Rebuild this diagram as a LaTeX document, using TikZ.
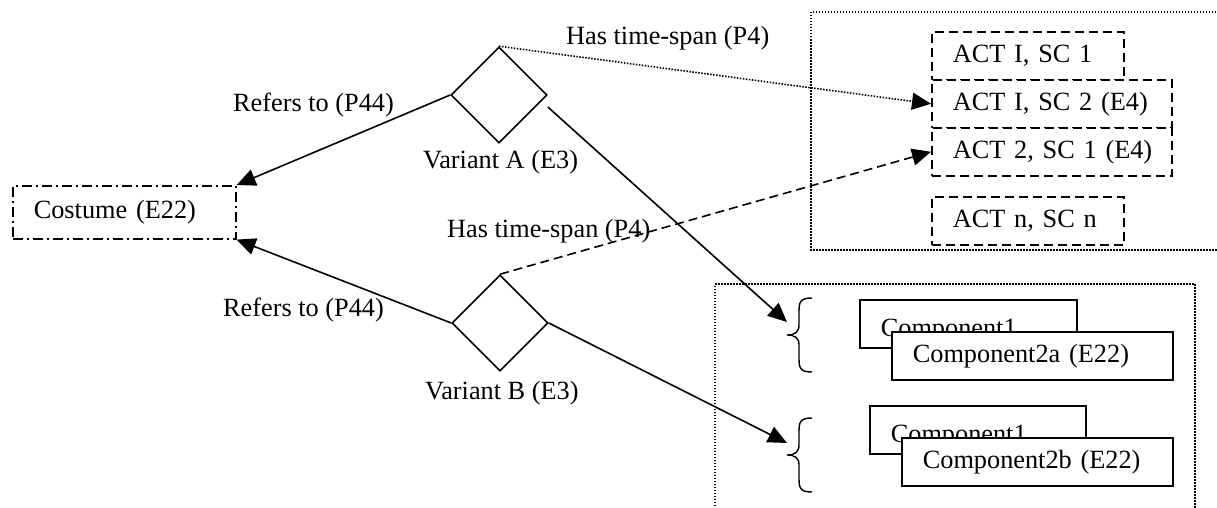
\documentclass[tikz,border=0pt]{standalone}
\usepackage{fontspec}
\setmainfont{Liberation Serif}
\usetikzlibrary{shapes.geometric,arrows.meta}

\tikzset{
  curly/.pic={
    \draw[line width=1.4pt] (25,-37) .. controls (13,-37) and (12,-33) .. (12,-23)
      -- (12,-10) .. controls (12,-3) and (8,0) .. (0,0)
      .. controls (8,0) and (12,3) .. (12,10)
      -- (12,23) .. controls (12,33) and (13,37) .. (25,37);
  }
}

\begin{document}
\begin{tikzpicture}[x=1pt,y=-1pt,
  every node/.style={font=\fontsize{26.3pt}{31pt}\selectfont},
  lbl/.style={anchor=base west, inner sep=0pt},
  framebox/.style={anchor=north west, inner xsep=21pt, inner ysep=0pt, align=left, line width=1.6pt},
  actbox/.style={framebox, draw, dash pattern=on 9pt off 5pt, fill=white, minimum height=48pt},
  compbox/.style={framebox, draw, fill=white, minimum height=48pt},
  group/.style={line width=1.4pt, dash pattern=on 1.5pt off 1.5pt},
  variant/.style={diamond, draw, line width=1.6pt, minimum width=96pt, minimum height=96pt, inner sep=0pt},
  link/.style={line width=1.6pt, -{Triangle[length=19pt,width=17pt]}},
]
\useasboundingbox (0,0) rectangle (1217,508);
\clip (0,0) rectangle (1217,508);

% dotted grouping frames
\draw[group] (1225,12) -- (811,12) -- (811,250) -- (1225,250);
\draw[group] (715,515) -- (715,284) -- (1195,284) -- (1195,515);

% costume entity
\node[framebox, draw, dash pattern=on 10pt off 4pt on 2pt off 4pt,
      minimum width=223pt, minimum height=53pt, text width=181pt]
      (costume) at (12,185) {\mbox{Costume (E22)}};

% variants
\node[variant] (varA) at (499,95) {};
\node[variant] (varB) at (500,323) {};

% scenes
\node[actbox, minimum width=192pt, text width=150pt] (act11) at (931,31) {\mbox{ACT I, SC 1}};
\node[actbox, minimum width=240pt, text width=198pt] (act12) at (931,79) {\mbox{ACT I, SC 2 (E4)}};
\node[actbox, minimum width=240pt, text width=198pt] (act21) at (931,127) {\mbox{ACT 2, SC 1 (E4)}};
\node[actbox, minimum width=192pt, text width=150pt] (actnn) at (931,196) {\mbox{ACT n, SC n}};

% components
\node[compbox, minimum width=217pt, text width=175pt, text height=26pt, text depth=0pt]
      (comp1a) at (859,299) {\mbox{Component1}};
\node[compbox, minimum width=281pt, text width=239pt] (comp2a) at (891,331) {\mbox{Component2a (E22)}};
\node[compbox, minimum width=216pt, text width=174pt, text height=26pt, text depth=0pt]
      (comp1b) at (869,405) {\mbox{Component1}};
\node[compbox, minimum width=271pt, text width=229pt] (comp2b) at (901,437) {\mbox{Component2b (E22)}};

% braces
\coordinate (brA) at (787,335);
\coordinate (brB) at (787,455);
\pic at (brA) {curly};
\pic at (brB) {curly};

% labels
\node[lbl] (refA) at (233,112) {Refers to (P44)};
\node[lbl] (refB) at (223,316) {Refers to (P44)};
\node[lbl] (labA) at (423,168) {Variant A (E3)};
\node[lbl] (labB) at (425,399) {Variant B (E3)};
\node[lbl] (spanA) at (566,45) {Has time-span (P4)};
\node[lbl] (spanB) at (447,237) {Has time-span (P4)};

% connectors
\draw[link] (varA.west) -- (costume.north east);
\draw[link] (varB.west) -- (costume.south east);
\draw[link] ([yshift=-12pt]varA.east) -- ([yshift=13pt]brA);
\draw[link] (varB.east) -- ([yshift=12pt]brB);
\draw[link, dash pattern=on 1.5pt off 1.5pt] (varA.north) -- (act12.west);
\draw[link, dash pattern=on 9pt off 5pt] (varB.north) -- (act21.west);
\end{tikzpicture}
\end{document}
